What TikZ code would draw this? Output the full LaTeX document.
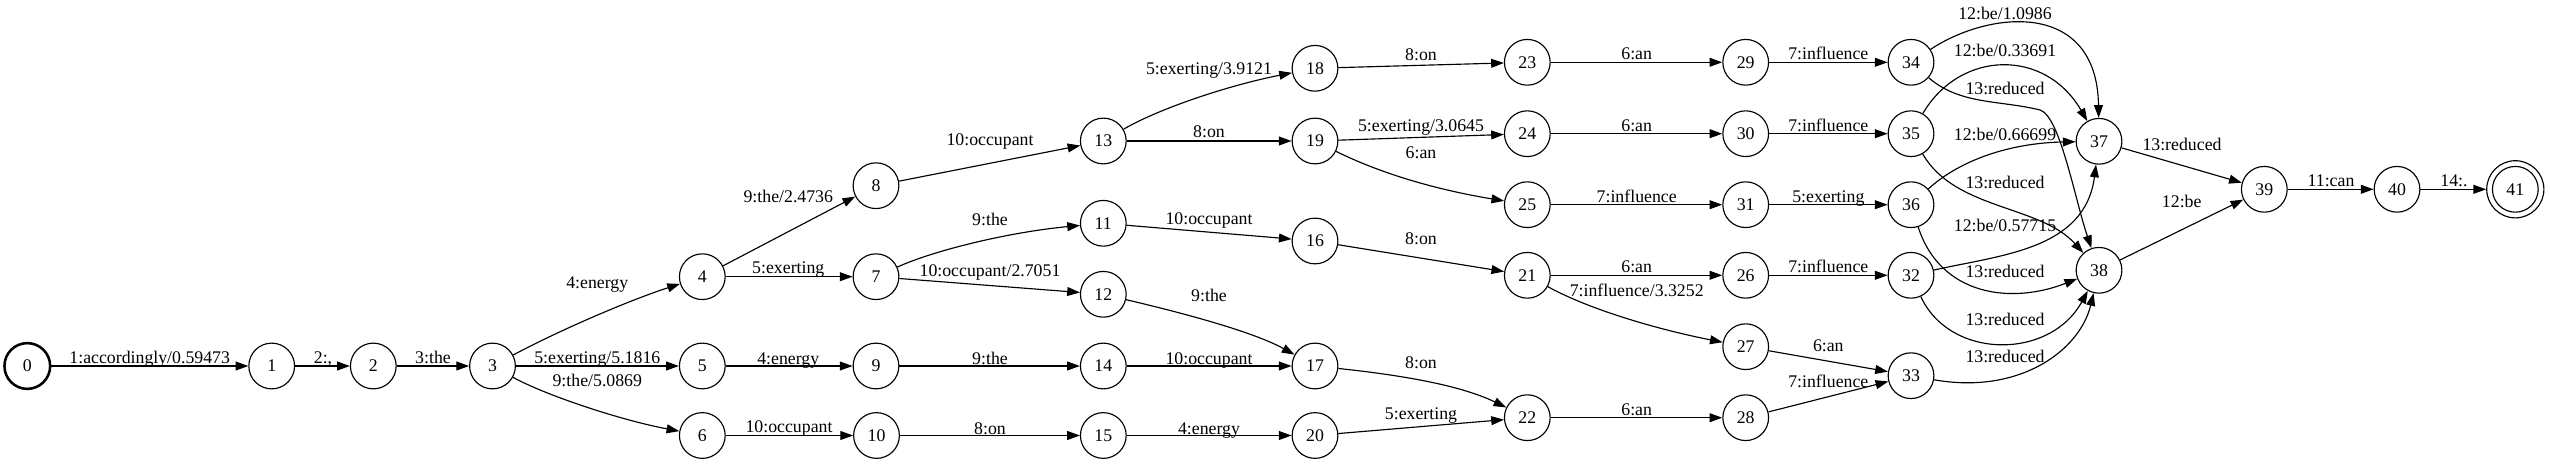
\documentclass[tikz,border=0pt]{standalone}
\usepackage{fontspec}
\setmainfont{Liberation Serif}
\usetikzlibrary{arrows.meta}
\begin{document}
\begin{tikzpicture}[x=0.787pt,y=-0.787pt,
  st/.style={circle,draw,line width=0.9pt,minimum size=36pt,inner sep=0pt,font=\fontsize{14}{16}\selectfont},
  lbl/.style={anchor=base,inner sep=0pt,font=\fontsize{14}{16}\selectfont},
  tr/.style={draw,line width=0.9pt,-{Triangle[length=10pt,width=7pt]}}
]
\fill[white] (0,0) rectangle (2550,466);
\useasboundingbox (0,0) rectangle (2550,466);
% states
\node[st,line width=2pt] (n0) at (27.3,366) {0};
\node[st] (n1) at (271.7,366) {1};
\node[st] (n2) at (373.3,366) {2};
\node[st] (n3) at (492.5,366) {3};
\node[st] (n4) at (702.3,276.7) {4};
\node[st] (n5) at (702.3,366) {5};
\node[st] (n6) at (702.3,435.5) {6};
\node[st] (n7) at (876,276.7) {7};
\node[st] (n8) at (876,185.7) {8};
\node[st] (n9) at (876,366) {9};
\node[st] (n10) at (876.5,435.5) {10};
\node[st] (n11) at (1103.3,223.3) {11};
\node[st] (n12) at (1103.3,294.3) {12};
\node[st] (n13) at (1103.3,141) {13};
\node[st] (n14) at (1103.3,366) {14};
\node[st] (n15) at (1103.3,435.5) {15};
\node[st] (n16) at (1315,241) {16};
\node[st] (n17) at (1315,366) {17};
\node[st] (n18) at (1315,68.3) {18};
\node[st] (n19) at (1315,141) {19};
\node[st] (n20) at (1315,435.5) {20};
\node[st] (n21) at (1527.3,275.3) {21};
\node[st] (n22) at (1527.3,417.7) {22};
\node[st] (n23) at (1527.3,62.3) {23};
\node[st] (n24) at (1527.3,133.7) {24};
\node[st] (n25) at (1527.3,204.7) {25};
\node[st] (n26) at (1745.7,275.3) {26};
\node[st] (n27) at (1745.7,346.7) {27};
\node[st] (n28) at (1745.7,417.7) {28};
\node[st] (n29) at (1745.7,62.3) {29};
\node[st] (n30) at (1745.7,133.7) {30};
\node[st] (n31) at (1745.7,204.7) {31};
\node[st] (n32) at (1911,275.3) {32};
\node[st] (n33) at (1911,375.7) {33};
\node[st] (n34) at (1911,62.3) {34};
\node[st] (n35) at (1911,133.7) {35};
\node[st] (n36) at (1911,204.7) {36};
\node[st] (n37) at (2099,141.3) {37};
\node[st] (n38) at (2099,270.3) {38};
\node[st] (n39) at (2264.3,189.3) {39};
\node[st] (n40) at (2397,189.3) {40};
\node[st,minimum size=45pt] (n41) at (2515.3,189.3) {41};
\draw[line width=0.9pt] (n41.center) circle[radius=18pt];
% straight transitions
\path[tr] (n0) -- (n1);
\path[tr] (n1) -- (n2);
\path[tr] (n2) -- (n3);
\path[tr] (n3) -- (n5);
\path[tr] (n4) -- (n8);
\path[tr] (n4) -- (n7);
\path[tr] (n5) -- (n9);
\path[tr] (n6) -- (n10);
\path[tr] (n8) -- (n13);
\path[tr] (n7) -- (n12);
\path[tr] (n9) -- (n14);
\path[tr] (n10) -- (n15);
\path[tr] (n13) -- (n19);
\path[tr] (n11) -- (n16);
\path[tr] (n14) -- (n17);
\path[tr] (n15) -- (n20);
\path[tr] (n18) -- (n23);
\path[tr] (n19) -- (n24);
\path[tr] (n16) -- (n21);
\path[tr] (n20) -- (n22);
\path[tr] (n23) -- (n29);
\path[tr] (n24) -- (n30);
\path[tr] (n25) -- (n31);
\path[tr] (n21) -- (n26);
\path[tr] (n22) -- (n28);
\path[tr] (n29) -- (n34);
\path[tr] (n30) -- (n35);
\path[tr] (n31) -- (n36);
\path[tr] (n26) -- (n32);
\path[tr] (n27) -- (n33);
\path[tr] (n28) -- (n33);
\path[tr] (n37) -- (n39);
\path[tr] (n38) -- (n39);
\path[tr] (n39) -- (n40);
\path[tr] (n40) -- (n41);
% curved transitions
\path[tr] (n3) .. controls (560,330) and (630,300) .. (n4);
\path[tr] (n3) .. controls (545,395) and (620,420) .. (n6);
\path[tr] (n7) .. controls (935,250) and (1010,232) .. (n11);
\path[tr] (n13) .. controls (1160,108) and (1230,85) .. (n18);
\path[tr] (n12) .. controls (1170,310) and (1250,330) .. (n17);
\path[tr] (n19) .. controls (1390,178) and (1450,192) .. (n25);
\path[tr] (n17) .. controls (1400,375) and (1460,385) .. (n22);
\path[tr] (n21) .. controls (1590,310) and (1660,330) .. (n27);
\path[tr] (n34) .. controls (1990,10) and (2097,0) .. (n37);
\path[tr] (n35) .. controls (1960,50) and (2045,48) .. (n37);
\path[tr] (n34) .. controls (1960,105) and (2000,100) .. (2040,110) .. controls (2060,116) and (2075,200) .. (n38);
\path[tr] (n36) .. controls (1960,160) and (2010,143) .. (n37);
\path[tr] (n35) .. controls (1955,210) and (2040,205) .. (n38);
\path[tr] (n32) .. controls (2000,255) and (2085,250) .. (n37);
\path[tr] (n36) .. controls (1940,295) and (2010,305) .. (n38);
\path[tr] (n32) .. controls (1950,360) and (2050,360) .. (n38);
\path[tr] (n33) .. controls (2020,395) and (2080,350) .. (n38);
% labels
\node[lbl] (l0) at (149.7,363) {1:accordingly/0.59473};
\node[lbl] (l1) at (323,363) {2:,};
\node[lbl] (l2) at (433,363) {3:the};
\node[lbl] (l3a) at (597.3,289) {4:energy};
\node[lbl] (l4a) at (788.3,203) {9:the/2.4736};
\node[lbl] (l4b) at (788.3,274) {5:exerting};
\node[lbl] (l3b) at (597.3,363) {5:exerting/5.1816};
\node[lbl] (l3c) at (597.3,386) {9:the/5.0869};
\node[lbl] (l5) at (788.3,364) {4:energy};
\node[lbl] (l6) at (789,432) {10:occupant};
\node[lbl] (l8) at (990,146) {10:occupant};
\node[lbl] (l13a) at (1209,75) {5:exerting/3.9121};
\node[lbl] (l13b) at (1209,138) {8:on};
\node[lbl] (l7a) at (990,226) {9:the};
\node[lbl] (l11) at (1209,225) {10:occupant};
\node[lbl] (l7b) at (990,277) {10:occupant/2.7051};
\node[lbl] (l12) at (1209,301) {9:the};
\node[lbl] (l9) at (990,364) {9:the};
\node[lbl] (l14) at (1209,364) {10:occupant};
\node[lbl] (l10) at (990,434) {8:on};
\node[lbl] (l15) at (1209,434) {4:energy};
\node[lbl] (l18) at (1421,61) {8:on};
\node[lbl] (l23) at (1636.7,60) {6:an};
\node[lbl] (l19a) at (1421,132) {5:exerting/3.0645};
\node[lbl] (l19b) at (1421,159) {6:an};
\node[lbl] (l24) at (1636.7,132) {6:an};
\node[lbl] (l25) at (1636.7,203) {7:influence};
\node[lbl] (l16) at (1421,245) {8:on};
\node[lbl] (l21a) at (1636.7,273) {6:an};
\node[lbl] (l21b) at (1636.7,297) {7:influence/3.3252};
\node[lbl] (l17) at (1421,368) {8:on};
\node[lbl] (l20) at (1421,419) {5:exerting};
\node[lbl] (l22) at (1636.7,415) {6:an};
\node[lbl] (l29) at (1828.3,60) {7:influence};
\node[lbl] (l30) at (1828.3,132) {7:influence};
\node[lbl] (l31) at (1828.3,203) {5:exerting};
\node[lbl] (l26) at (1828.3,273) {7:influence};
\node[lbl] (l27) at (1828.3,352) {6:an};
\node[lbl] (l28) at (1828.3,387) {7:influence};
\node[lbl] (l34a) at (2005,20) {12:be/1.0986};
\node[lbl] (l35a) at (2005,57) {12:be/0.33691};
\node[lbl] (l34b) at (2005,95) {13:reduced};
\node[lbl] (l36a) at (2005,141) {12:be/0.66699};
\node[lbl] (l35b) at (2005,189) {13:reduced};
\node[lbl] (l32a) at (2005,232) {12:be/0.57715};
\node[lbl] (l36b) at (2005,278) {13:reduced};
\node[lbl] (l32b) at (2005,325) {13:reduced};
\node[lbl] (l33) at (2005,362) {13:reduced};
\node[lbl] (l37) at (2182,151) {13:reduced};
\node[lbl] (l38) at (2181.7,208) {12:be};
\node[lbl] (l39) at (2331,187) {11:can};
\node[lbl] (l40) at (2454,187) {14:.};
\end{tikzpicture}
\end{document}
